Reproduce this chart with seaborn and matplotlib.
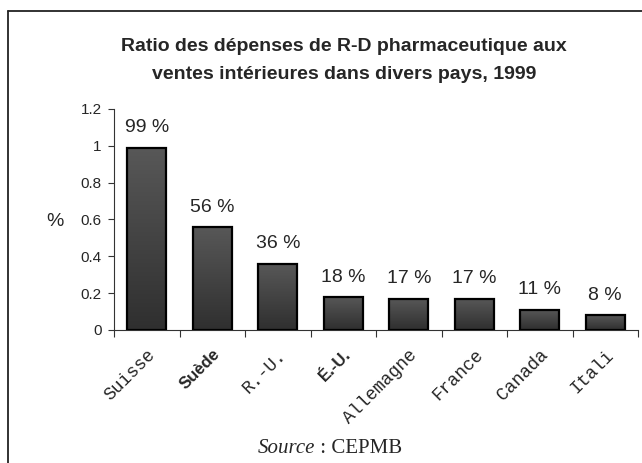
import numpy as np
import matplotlib
matplotlib.use("Agg")
import matplotlib.pyplot as plt
import seaborn as sns
from matplotlib.lines import Line2D
from matplotlib.colors import LinearSegmentedColormap

# data
pays = ["Suisse", "Suède", "R.-U.", "É.-U.", "Allemagne", "France", "Canada", "Itali"]
ratio = [0.99, 0.56, 0.36, 0.18, 0.17, 0.17, 0.11, 0.08]
etiquettes = ["99 %", "56 %", "36 %", "18 %", "17 %", "17 %", "11 %", "8 %"]
y_ticks = [0, 0.2, 0.4, 0.6, 0.8, 1.0, 1.2]
y_labels = ["0", "0.2", "0.4", "0.6", "0.8", "1", "1.2"]
titre = ["Ratio des dépenses de R-D pharmaceutique aux",
         "ventes intérieures dans divers pays, 1999"]

sns.set_style("white")
plt.rcParams['font.family'] = ['Liberation Sans', 'DejaVu Sans']

fig = plt.figure(figsize=(6.42, 4.63), dpi=100)
ax = fig.add_axes([0.1776, 0.2873, 0.8162, 0.4773])

sns.barplot(x=pays, y=ratio, color="#444444", width=0.59, saturation=1,
            edgecolor="black", linewidth=1.6, ax=ax)

# dark grey gradient inside the bars
cmap = LinearSegmentedColormap.from_list("g", ["#2f2f2f", "#585858"])
grad = np.linspace(0, 1, 256).reshape(-1, 1)
for p in ax.patches:
    x0, y0, w, h = p.get_x(), p.get_y(), p.get_width(), p.get_height()
    im = ax.imshow(grad, extent=(x0, x0 + w, y0, y0 + h), origin="lower",
                   cmap=cmap, aspect="auto", zorder=2)
    im.set_clip_path(p)
    p.set_facecolor("none")
    p.set_zorder(3)

for p, lab in zip(ax.patches, etiquettes):
    ax.annotate(lab, (p.get_x() + p.get_width() / 2, p.get_height()),
                xytext=(0, 11), textcoords="offset points",
                ha="center", va="baseline", fontsize=14)

ax.set_xlim(-0.5, len(pays) - 0.5)
ax.set_ylim(0, 1.2)
ax.set_yticks(y_ticks)
ax.set_yticklabels(y_labels, fontsize=11)
ax.tick_params(axis="y", left=True, length=4, width=0.8, color="#333333", pad=5)

ax.set_xticks(range(len(pays)))
ax.set_xticks(np.arange(-0.5, len(pays)), minor=True)
ax.tick_params(axis="x", which="major", length=0, pad=12)
ax.tick_params(axis="x", which="minor", bottom=True, length=5, width=0.8, color="#333333")
ax.set_xticklabels(pays, rotation=45, ha="right", va="top", rotation_mode="anchor",
                   family=["Liberation Mono", "DejaVu Sans Mono"], fontsize=13)
for t in ax.get_xticklabels():
    if t.get_text() in ("Suède", "É.-U."):
        t.set_family(["Liberation Sans", "DejaVu Sans"])
        t.set_fontweight("bold")
        t.set_fontsize(12)

ax.set_xlabel("")
ax.set_ylabel("%", rotation=0, fontsize=14, va="center", ha="center")
ax.yaxis.set_label_coords(-0.113, 0.49)

for s in ["top", "right"]:
    ax.spines[s].set_visible(False)
for s in ["left", "bottom"]:
    ax.spines[s].set_color("#333333")
    ax.spines[s].set_linewidth(0.8)

# title, two lines
fig.text(0.536, 1 - 51 / 463, titre[0], ha="center", va="baseline",
         fontsize=14, fontweight="bold")
fig.text(0.536, 1 - 79 / 463, titre[1], ha="center", va="baseline",
         fontsize=14, fontweight="bold")

# source line: italic "Source" then " : CEPMB"
src = fig.text(0.402, 1 - 453 / 463, "Source", ha="left", va="baseline",
               family=["Liberation Serif", "DejaVu Serif"], style="italic", fontsize=15)
fig.canvas.draw()
bb = src.get_window_extent().transformed(fig.transFigure.inverted())
fig.text(bb.x1, 1 - 453 / 463, " : CEPMB", ha="left", va="baseline",
         family=["Liberation Serif", "DejaVu Serif"], fontsize=15)

# frame around the picture (only top and left show)
fig.add_artist(Line2D([8 / 642, 1], [1 - 11 / 463, 1 - 11 / 463],
                      transform=fig.transFigure, color="#222222", lw=1.3))
fig.add_artist(Line2D([8 / 642, 8 / 642], [0, 1 - 11 / 463],
                      transform=fig.transFigure, color="#222222", lw=1.3))

fig.savefig("out.png", dpi=100)
